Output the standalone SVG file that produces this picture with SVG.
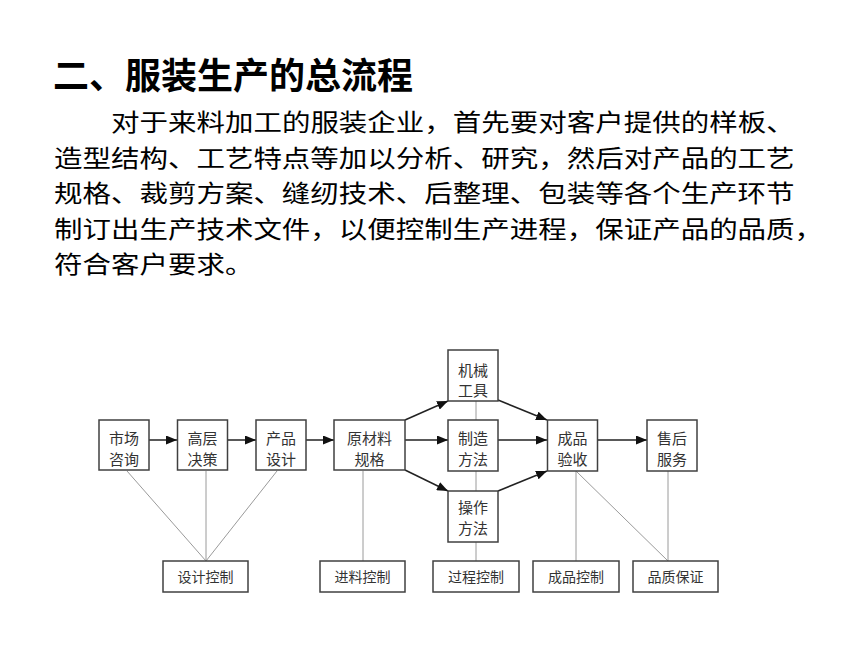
<svg xmlns="http://www.w3.org/2000/svg" width="860" height="645" viewBox="0 0 860 645">
<style>
.bg{fill:#fff}
.title{font-family:"Noto Sans CJK SC","Noto Sans",sans-serif;font-size:36px;font-weight:bold;fill:#000}
.body{font-family:"Noto Sans CJK SC","Noto Sans",sans-serif;font-size:24.4px;fill:#000}
.box{fill:#fff;stroke:#404040;stroke-width:1.5}
.t{font-family:"Noto Sans CJK SC","Noto Sans",sans-serif;font-size:15px;fill:#333;text-anchor:middle}
.tb{font-family:"Noto Sans CJK SC","Noto Sans",sans-serif;font-size:14px;fill:#333;text-anchor:middle}
.arr{stroke:#222;stroke-width:1.5;fill:none;marker-end:url(#ah)}
.ln{stroke:#9a9a9a;stroke-width:1;fill:none}
</style>
<defs>
<marker id="ah" markerWidth="11" markerHeight="9" refX="11" refY="4.5" orient="auto" markerUnits="userSpaceOnUse">
<path d="M0,0 L11,4.5 L0,9 Z" fill="#111"/>
</marker>
</defs>
<rect class="bg" x="0" y="0" width="860" height="645"/>
<g id="heading">
<text class="title" x="53" y="89">二、服装生产的总流程</text>
<text class="body" transform="scale(1.168,1)"><tspan x="95.03" y="131.5">对于来料加工的服装企业，首先要对客户提供的样板、</tspan><tspan x="46.23" y="167">造型结构、工艺特点等加以分析、研究，然后对产品的工艺</tspan><tspan x="46.23" y="202.5">规格、裁剪方案、缝纫技术、后整理、包装等各个生产环节</tspan><tspan x="46.23" y="238">制订出生产技术文件，以便控制生产进程，保证产品的品质，</tspan><tspan x="46.23" y="273.5">符合客户要求。</tspan></text>
</g>
<g id="connectors">
<line class="ln" x1="127" y1="471" x2="206" y2="561"/>
<line class="ln" x1="206" y1="471" x2="206" y2="561"/>
<line class="ln" x1="277" y1="471" x2="206" y2="561"/>
<line class="ln" x1="363" y1="471" x2="363" y2="561"/>
<line class="ln" x1="476" y1="401" x2="476" y2="420"/>
<line class="ln" x1="476" y1="471" x2="476" y2="491"/>
<line class="ln" x1="476" y1="542" x2="476" y2="561"/>
<line class="ln" x1="576" y1="471" x2="576" y2="561"/>
<line class="ln" x1="576" y1="471" x2="668" y2="561"/>
<line class="ln" x1="668" y1="471" x2="668" y2="561"/>
<line class="arr" x1="149" y1="440" x2="177" y2="440"/>
<line class="arr" x1="227" y1="440" x2="256" y2="440"/>
<line class="arr" x1="305" y1="440" x2="334" y2="440"/>
<line class="arr" x1="405" y1="440" x2="448" y2="440"/>
<line class="arr" x1="405" y1="420" x2="448" y2="401"/>
<line class="arr" x1="405" y1="470" x2="448" y2="491"/>
<line class="arr" x1="498" y1="440" x2="547" y2="440"/>
<line class="arr" x1="498" y1="400" x2="547" y2="420"/>
<line class="arr" x1="498" y1="491" x2="547" y2="471"/>
<line class="arr" x1="597" y1="440" x2="647" y2="440"/>
</g>
<g id="n-market"><rect class="box" x="99" y="420" width="50" height="50"/><text class="t" x="124" y="444">市场</text><text class="t" x="124" y="465">咨询</text></g>
<g id="n-decision"><rect class="box" x="177.5" y="420" width="50" height="50"/><text class="t" x="202.5" y="444">高层</text><text class="t" x="202.5" y="465">决策</text></g>
<g id="n-design"><rect class="box" x="256" y="420" width="50" height="50"/><text class="t" x="281" y="444">产品</text><text class="t" x="281" y="465">设计</text></g>
<g id="n-material"><rect class="box" x="334" y="420" width="71" height="50"/><text class="t" x="369.5" y="444">原材料</text><text class="t" x="369.5" y="465">规格</text></g>
<g id="n-tools"><rect class="box" x="448" y="350" width="50" height="51"/><text class="t" x="473" y="376">机械</text><text class="t" x="473" y="396">工具</text></g>
<g id="n-method"><rect class="box" x="448" y="420" width="50" height="51"/><text class="t" x="473" y="444">制造</text><text class="t" x="473" y="465">方法</text></g>
<g id="n-operation"><rect class="box" x="448" y="491" width="50" height="51"/><text class="t" x="473" y="513">操作</text><text class="t" x="473" y="534">方法</text></g>
<g id="n-inspect"><rect class="box" x="547.5" y="420" width="50" height="51"/><text class="t" x="572.5" y="444">成品</text><text class="t" x="572.5" y="465">验收</text></g>
<g id="n-service"><rect class="box" x="647" y="420" width="50" height="51"/><text class="t" x="672" y="444">售后</text><text class="t" x="672" y="465">服务</text></g>
<g id="n-designctl"><rect class="box" x="163" y="561" width="85" height="31"/><text class="tb" x="205.5" y="582">设计控制</text></g>
<g id="n-inctl"><rect class="box" x="320" y="561" width="85" height="31"/><text class="tb" x="362.5" y="582">进料控制</text></g>
<g id="n-procctl"><rect class="box" x="433" y="561" width="86" height="31"/><text class="tb" x="476" y="582">过程控制</text></g>
<g id="n-prodctl"><rect class="box" x="533" y="561" width="86" height="31"/><text class="tb" x="576" y="582">成品控制</text></g>
<g id="n-quality"><rect class="box" x="633" y="561" width="85" height="31"/><text class="tb" x="675.5" y="582">品质保证</text></g>
</svg>
